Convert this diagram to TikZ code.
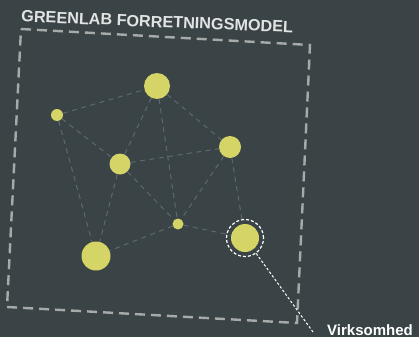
\documentclass[tikz,border=0pt]{standalone}
\usepackage{fontspec}
\setmainfont{Liberation Sans}
\usepackage{tikz}
\definecolor{bg}{HTML}{3A4446}
\definecolor{dot}{HTML}{D5D466}
\definecolor{frameline}{HTML}{A8AAAA}
\definecolor{linkline}{HTML}{5E696B}
\definecolor{title}{HTML}{E2E4E4}
\tikzset{
  hub/.style={circle, fill=dot, inner sep=0pt, minimum size=#1},
  tie/.style={draw=linkline, line width=1pt, dash pattern=on 5pt off 4.5pt},
  frame/.style={draw=frameline, line width=2.4pt, dash pattern=on 10pt off 6pt},
  ring/.style={circle, draw=white, line width=1.2pt, dash pattern=on 3pt off 2pt, minimum size=37pt, inner sep=0pt},
  callout/.style={draw=white, line width=1pt, dash pattern=on 2.5pt off 2pt},
  lab/.style={text=white, font=\bfseries\fontsize{15}{18}\selectfont, inner sep=0pt},
  head/.style={text=title, font=\bfseries\fontsize{16.2}{19}\selectfont, inner sep=0pt},
}

\begin{document}
\begin{tikzpicture}[x=1pt, y=-1pt]
  \fill[bg] (0,0) rectangle (419,337);

  % dashed frame, slightly skewed
  \draw[frame] (21,29) -- (310,45) -- (297,323) -- (7,307) -- cycle;
  \node[head, anchor=base west, rotate=-2.3] (heading) at (21,21.8) {GREENLAB FORRETNINGSMODEL};

  \node[hub=12pt] (lone) at (57,115) {};  % small, left
  \node[hub=26pt] (top)  at (157,86) {};  % top
  \node[hub=22pt] (east) at (230,147) {}; % right
  \node[hub=21pt] (mid)  at (120,164) {}; % middle left
  \node[hub=11pt] (core) at (178,224) {}; % small, centre
  \node[hub=29pt] (base) at (96,256) {};  % bottom left
  \node[hub=28pt] (firm) at (245,238) {}; % highlighted
  \node[ring] (ring) at (firm) {};

  \draw[tie] (lone) -- (top);
  \draw[tie] (lone) -- (mid);
  \draw[tie] (lone) -- (base);
  \draw[tie] (top) -- (mid);
  \draw[tie] (top) -- (east);
  \draw[tie] (top) -- (core);
  \draw[tie] (mid) -- (east);
  \draw[tie] (mid) -- (base);
  \draw[tie] (mid) -- (core);
  \draw[tie] (east) -- (core);
  \draw[tie] (east) -- (firm);
  \draw[tie] (core) -- (firm);
  \draw[tie] (core) -- (base);

  \coordinate (tip) at (313,332);
  \draw[callout] (ring) -- (tip);
  \node[lab, anchor=base west] (firmlab) at (327,335) {Virksomhed};
\end{tikzpicture}
\end{document}
